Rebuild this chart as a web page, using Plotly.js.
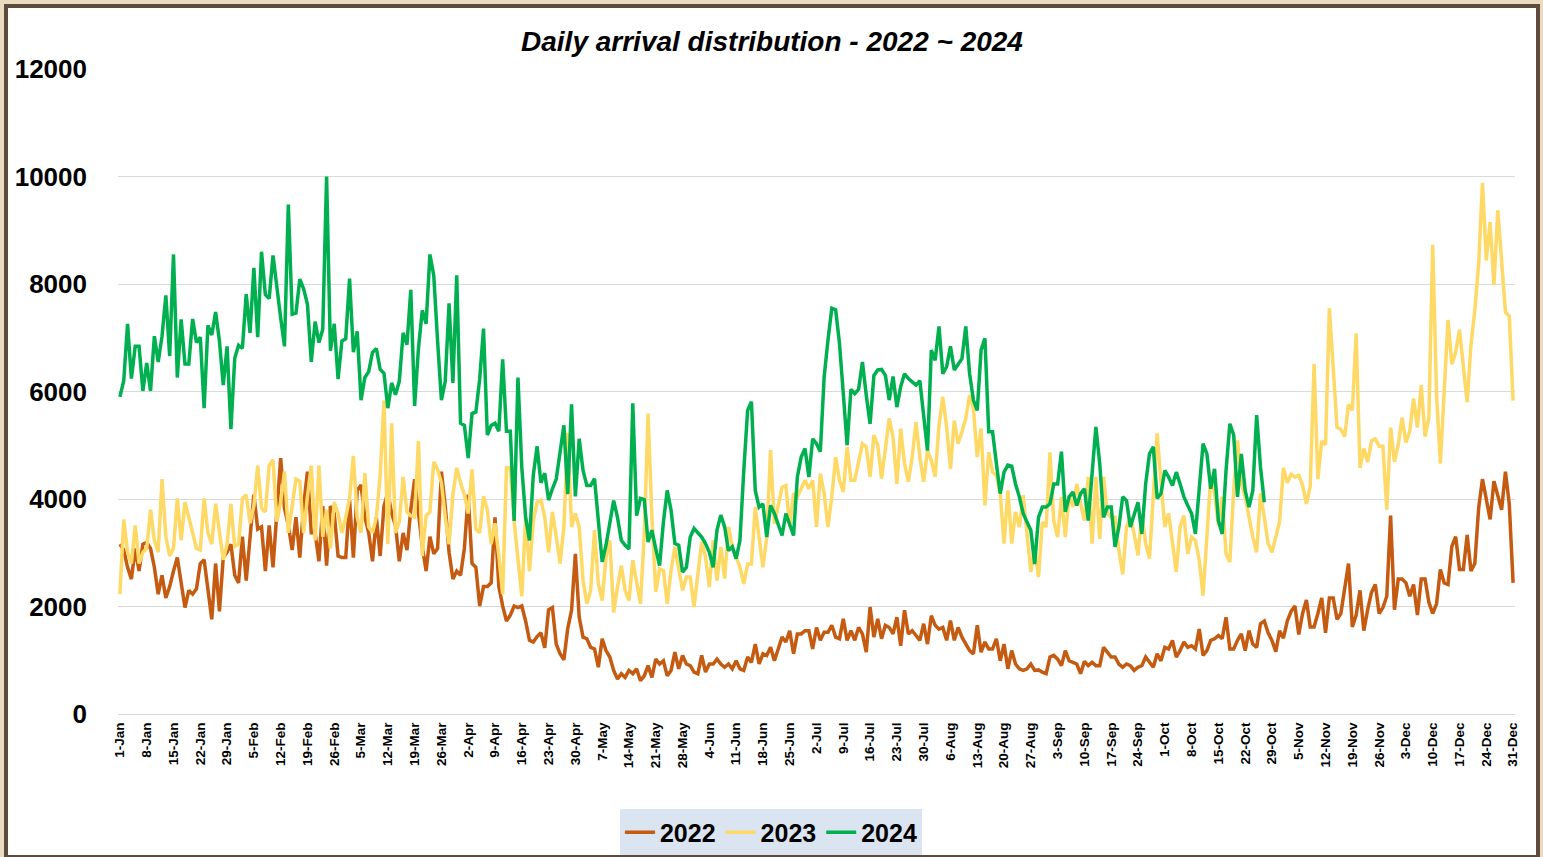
<!DOCTYPE html>
<html>
<head>
<meta charset="utf-8">
<script src="https://cdn.plot.ly/plotly-3.0.1.min.js"></script>
<style>
html,body{margin:0;padding:0;background:#e9dbbf;width:1543px;height:857px;overflow:hidden;}
#frame{position:absolute;left:4px;top:4px;width:1528px;height:847px;border:4px solid #5e4b3d;background:#ffffff;}
#plot{width:1528px;height:847px;}
</style>
</head>
<body>
<div id="frame"><div id="plot"></div></div>
<script>
// Category labels: one per day, "1-Jan" ... "31-Dec"
const monthNames = ["Jan","Feb","Mar","Apr","May","Jun","Jul","Aug","Sep","Oct","Nov","Dec"];
const monthDays  = [31,28,31,30,31,30,31,31,30,31,30,31];
const days = [];
monthNames.forEach((m,i)=>{ for(let d=1; d<=monthDays[i]; d++) days.push(d+"-"+m); });

// Tick labels every 7 days
const tickLabels = ["1-Jan","8-Jan","15-Jan","22-Jan","29-Jan","5-Feb","12-Feb","19-Feb","26-Feb","5-Mar","12-Mar","19-Mar","26-Mar","2-Apr","9-Apr","16-Apr","23-Apr","30-Apr","7-May","14-May","21-May","28-May","4-Jun","11-Jun","18-Jun","25-Jun","2-Jul","9-Jul","16-Jul","23-Jul","30-Jul","6-Aug","13-Aug","20-Aug","27-Aug","3-Sep","10-Sep","17-Sep","24-Sep","1-Oct","8-Oct","15-Oct","22-Oct","29-Oct","5-Nov","12-Nov","19-Nov","26-Nov","3-Dec","10-Dec","17-Dec","24-Dec","31-Dec"];

const yTicks = [0,2000,4000,6000,8000,10000,12000];

const arrivals2022 = [
3160,3050,2730,2510,3080,2660,3160,3190,3080,2730,
2230,2580,2160,2370,2660,2910,2440,1980,2300,2230,
2330,2800,2870,2370,1760,2800,1910,2910,3010,3160,
2580,2440,3300,2480,3370,4080,3440,3480,2660,3510,
2730,3730,4760,3830,3510,3050,3660,2910,3870,4510,
3370,3370,2840,3870,2760,3870,3730,2940,2910,2910,
3980,2910,4160,4260,3660,3370,2840,3660,2940,3870,
4120,3730,3510,2840,3370,3050,3800,4370,3730,3120,
2660,3300,2980,3080,4510,3870,3010,2510,2660,2580,
3080,4080,2800,2730,2010,2370,2370,2440,3660,2370,
2010,1730,1840,2010,1980,2010,1730,1370,1340,1440,
1510,1230,1940,1980,1300,1120,1010,1590,1930,2980,
1800,1430,1400,1240,1210,870,1400,1180,1060,810,
650,750,680,810,750,840,620,710,900,680,
1020,930,990,710,810,1150,840,1090,930,900,
780,750,1090,780,930,930,1020,930,870,930,
840,990,840,810,1060,960,1300,930,1120,1090,
1240,990,1210,1430,1340,1550,1120,1490,1490,1550,
1550,1210,1610,1370,1520,1520,1650,1430,1400,1770,
1370,1550,1370,1610,1490,1150,1990,1430,1770,1400,
1650,1610,1490,1800,1270,1930,1490,1550,1460,1370,
1680,1300,1830,1650,1580,1610,1370,1740,1370,1610,
1430,1300,1180,1120,1650,1150,1340,1210,1210,1400,
990,1300,840,1180,930,840,810,840,930,810,
820,780,750,1060,1090,1020,900,1180,990,960,
930,750,980,900,960,900,900,1240,1150,1060,
1060,930,870,930,900,810,870,900,1060,960,
870,1120,990,1240,1210,1370,1060,1180,1340,1240,
1270,1210,1580,1090,1180,1370,1400,1460,1400,1800,
1210,1210,1370,1490,1180,1550,1300,1240,1680,1730,
1510,1370,1160,1550,1410,1730,1910,2010,1480,1870,
2120,1620,1620,1870,2160,1510,2160,2160,1760,1870,
2300,2800,1620,1840,2300,1550,1940,2260,2410,1870,
1980,2190,3690,1940,2510,2510,2440,2190,2410,1840,
2510,2510,2080,1870,2050,2690,2440,2410,3120,3300,
2690,2690,3330,2660,2800,3830,4370,4010,3620,4330,
4050,3800,4510,3910,2440];

const arrivals2023 = [
2230,3620,3010,2800,3510,2800,3010,3080,3800,3230,
3010,4370,3300,2940,3080,4010,3230,3940,3660,3370,
3080,3050,4010,3370,3160,3910,3370,2870,3160,3910,
3120,3160,4010,4080,3550,3870,4620,3830,3760,4620,
4730,3580,3940,4510,3370,3870,4370,4330,3370,4050,
4620,3230,4620,3300,3800,3080,3940,3730,3370,3660,
4010,4800,3660,3370,4480,3480,3370,3660,4440,5830,
3160,5410,3370,3580,4410,3760,3690,3660,5080,2940,
3690,3760,4690,4550,4300,3660,3160,4080,4580,4300,
4080,3730,4550,3440,3370,4050,3800,3160,3550,2940,
2230,4580,4580,3580,2940,2190,3660,2660,3580,3940,
3980,3660,3010,3760,3300,2800,3480,5230,3480,3730,
3480,2480,2050,2300,3420,2420,2110,2920,3230,1890,
2360,2760,2300,2110,2860,2420,2050,3350,5590,3660,
2270,2700,2670,2050,2670,3110,2670,2300,2550,2550,
1990,2670,3200,2920,2360,3230,2480,3110,2520,3480,
3110,2920,2730,2420,2790,2790,3850,3290,2730,3290,
4910,3540,3910,4220,4250,3480,4100,4040,4190,4350,
4190,4350,3480,4470,4100,3480,4040,4780,4350,4130,
4970,4350,4350,4660,5030,4970,4410,5190,5000,4380,
4970,5500,5150,4280,5310,4660,4320,4780,5430,4780,
4320,4900,4720,4410,5370,5900,5340,4560,5460,5030,
5250,5500,5930,5680,4780,5310,3880,4870,4500,4440,
4100,3170,4160,3170,3760,3480,4070,3290,2640,3110,
2550,3570,3480,4870,3600,3290,4040,3290,4070,3850,
4280,3910,3600,4410,3170,4410,3260,4410,3730,3660,
3660,3040,2600,3480,3660,3350,2950,3730,3170,2890,
4160,5220,4320,3480,3730,3170,2640,3480,3690,2980,
3290,3230,2860,2200,3350,4410,4100,3510,4040,2980,
2830,4160,5090,4280,4040,3660,3290,3010,4100,3660,
3170,3010,3290,3580,4580,4300,4460,4410,4440,4260,
3910,4230,6510,4370,5080,5010,7550,6370,5330,5300,
5160,5760,5650,7080,4580,4940,4690,5080,5120,4980,
4980,3800,5330,4690,5010,5510,5050,5260,5870,5330,
6120,5160,5510,8730,5940,4660,6080,7330,6510,6730,
7150,6510,5800,6870,7510,8370,9880,8440,9150,7980,
9370,8440,7480,7400,5830];

const arrivals2024 = [
5900,6200,7260,6240,6840,6840,6010,6530,6010,7030,
6550,7030,7790,6660,8550,6260,7340,6510,6510,7350,
6910,7010,5690,7230,7050,7480,6940,6120,6840,5300,
6620,6860,6800,7810,7090,8300,7010,8600,7800,7730,
8530,7910,7370,6840,9480,7440,7460,8090,7910,7620,
6550,7300,6910,7160,10000,6760,7260,6230,6940,6980,
8100,6730,7120,5840,6260,6370,6730,6800,6410,6340,
5690,6160,5940,6190,7090,6870,7890,5730,6800,7510,
7260,8550,8160,6940,5840,6190,7640,6160,8160,5410,
5370,4760,5590,5620,6230,7170,5190,5370,5410,5260,
6600,5260,5260,3590,6260,4590,3660,3230,4440,4980,
4300,4480,3980,4190,4370,4870,5370,4090,5760,4050,
5120,4530,4250,4250,4380,3600,2830,3140,3570,3970,
3660,3230,3140,3070,5780,3690,4010,3990,3200,3420,
3070,2760,3570,4160,3790,3170,3140,2640,2730,3290,
3450,3380,3290,3170,3010,2730,3420,3700,3480,3040,
3110,2890,3230,4530,5650,5810,4160,3850,3910,3290,
3880,3730,3540,3320,3730,3540,3320,4410,4780,4940,
4410,5120,5030,4880,6270,6960,7550,7520,6900,5960,
5000,6040,5960,6040,6550,5930,5400,6300,6400,6410,
6300,5840,6280,5710,6090,6330,6240,6180,6120,6200,
5530,4900,6770,6580,7210,6330,6460,6840,6400,6520,
6610,7210,6330,5840,5650,6770,6990,5250,5250,4660,
4100,4500,4630,4610,4280,4040,3730,3570,3420,2790,
3660,3850,3850,3910,4280,4280,4880,3760,4040,4130,
3880,4100,4190,3600,4410,5340,4660,3660,3850,3850,
3110,3480,4040,3970,3480,3730,3940,3350,4280,4840,
4970,4010,4100,4530,4410,4250,4500,4280,4040,3880,
3730,3350,4280,5030,4840,4190,4560,3600,3350,4530,
5400,5190,4040,4840,4160,3850,4160,5560,4600,3940];

const seriesNames  = ["2022","2023","2024"];
const seriesColors = ["#c55a11","#ffd966","#00b050"];
const seriesData   = [arrivals2022, arrivals2023, arrivals2024];

const traces = seriesData.map((vals,i)=>({
  type:"scatter", mode:"lines", name:seriesNames[i],
  x: days.slice(0, vals.length), y: vals,
  line:{color:seriesColors[i], width:3.5, shape:"linear"},
  hoverinfo:"x+y+name"
}));

const layout = {
  width:1528, height:847,
  paper_bgcolor:"#ffffff", plot_bgcolor:"#ffffff",
  margin:{l:110, r:21, t:61, b:141, autoexpand:false},
  font:{family:"Liberation Sans, Arial, sans-serif", color:"#000000"},
  title:{text:"<b><i>Daily arrival distribution - 2022 ~ 2024</i></b>",
         font:{size:28, color:"#000000", family:"Liberation Sans, Arial, sans-serif"},
         x:0.5, xanchor:"center", xref:"container", y:0.961, yanchor:"middle"},
  xaxis:{type:"category", categoryorder:"array", categoryarray:days,
         range:[-0.5, days.length-0.5], automargin:false,
         tickmode:"array", tickvals:tickLabels, ticktext:tickLabels.map(t=>"<b>"+t+"</b>"),
         tickangle:-90, tickfont:{size:13.5, color:"#000000"},
         ticklabelstandoff:2,
         showgrid:false, showline:true, linecolor:"#d9d9d9", linewidth:1,
         ticks:"", zeroline:false, fixedrange:true},
  yaxis:{range:[0,12000], tickmode:"array", tickvals:yTicks, automargin:false,
         ticktext:yTicks.map(v=>"<b>"+v+"</b>"),
         tickfont:{size:26, color:"#000000"},
         showgrid:true, gridcolor:"#d9d9d9", gridwidth:1,
         zeroline:true, zerolinecolor:"#d9d9d9", zerolinewidth:1,
         showline:false, ticks:"", ticklabelstandoff:30, fixedrange:true},
  showlegend:true,
  legend:{orientation:"h", x:0.4674, xanchor:"center", y:-0.148, yanchor:"top",
          bgcolor:"#dbe5f1", borderwidth:0,
          font:{size:25, color:"#000000", family:"Liberation Sans, Arial, sans-serif", weight:"bold"},
          itemwidth:30, tracegroupgap:0}
};

Plotly.newPlot("plot", traces, layout, {displayModeBar:false, staticPlot:false});
</script>
</body>
</html>
